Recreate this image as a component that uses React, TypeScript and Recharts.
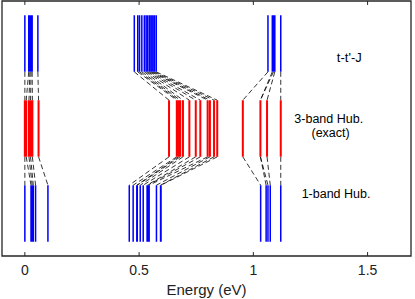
import React from 'react';
import { ComposedChart, Line, XAxis, YAxis, ReferenceDot, ReferenceArea, ReferenceLine, Label } from 'recharts';

// Energy levels (eV) for each model, sorted so index i corresponds across rows
const tJLevels = [
  0, 0.017, 0.022, 0.027, 0.032, 0.057,
  0.479, 0.494, 0.502, 0.512, 0.523, 0.531, 0.538, 0.546, 0.553, 0.56, 0.567, 0.575,
  1.064, 1.083, 1.088, 1.094, 1.12,
];
const threeBandLevels = [
  0, 0.006, 0.018, 0.025, 0.033, 0.06,
  0.631, 0.665, 0.672, 0.68, 0.692, 0.72, 0.748, 0.768, 0.8, 0.81, 0.828, 0.842,
  0.954, 1.031, 1.031, 1.06, 1.12,
];
const oneBandLevels = [
  0, 0.027, 0.032, 0.037, 0.047, 0.101,
  0.457, 0.474, 0.49, 0.492, 0.505, 0.518, 0.535, 0.538, 0.544, 0.576, 0.594, 0.596,
  1.032, 1.056, 1.064, 1.074, 1.12,
];
const rowLabels = ["t-t'-J", '3-band Hub.', '(exact)', '1-band Hub.'];
const xTicks = [0, 0.5, 1, 1.5];

const X_DOMAIN: [number, number] = [-0.1, 1.69];
const Y_DOMAIN: [number, number] = [0, 9];
const TICK_LEN = 0.14; // inward tick length in vertical units

// row extents in the (hidden) vertical coordinate
const TOP_ROW: [number, number] = [6.5, 8.5];
const MID_ROW: [number, number] = [3.5, 5.5];
const BOT_ROW: [number, number] = [0.5, 2.5];

type Pt = { x: number; y: number | null };

function levelSegments(levels: number[], span: [number, number]): Pt[] {
  return levels.flatMap((x) => [
    { x, y: span[0] },
    { x, y: span[1] },
    { x, y: null },
  ]);
}
function linkSegments(from: number[], to: number[], yFrom: number, yTo: number): Pt[] {
  return from.flatMap((x, i) => [
    { x, y: yFrom },
    { x: to[i], y: yTo },
    { x: to[i], y: null },
  ]);
}

const FRAME = '#262626';
const FONT = '"Liberation Sans", Arial, sans-serif';

export default function App() {
  return (
    <div style={{ position: 'absolute', left: 0, top: 0 }}>
      <ComposedChart
        width={415}
        height={299}
        margin={{ top: 1, right: 4, left: 2, bottom: 0 }}
        style={{ fontFamily: FONT }}
      >
        <XAxis
          dataKey="x"
          type="number"
          domain={X_DOMAIN}
          ticks={xTicks}
          allowDataOverflow
          height={43}
          axisLine={false}
          tickLine={false}
          tickSize={4}
          tickMargin={5}
          tick={{ fill: '#222', fontSize: 14 }}
          tickFormatter={(v: number) => String(v)}
        >
          <Label value="Energy (eV)" position="insideBottom" offset={4} fill="#222" fontSize={15} />
        </XAxis>
        <YAxis type="number" domain={Y_DOMAIN} hide width={0} />

        <ReferenceArea
          x1={X_DOMAIN[0]}
          x2={X_DOMAIN[1]}
          y1={Y_DOMAIN[0]}
          y2={Y_DOMAIN[1]}
          fill="none"
          fillOpacity={0}
          stroke={FRAME}
          strokeWidth={1.3}
          ifOverflow="visible"
        />
        {xTicks.map((t) => (
          <ReferenceLine
            key={'b' + t}
            segment={[{ x: t, y: Y_DOMAIN[0] }, { x: t, y: Y_DOMAIN[0] + TICK_LEN }]}
            stroke={FRAME}
            strokeWidth={1}
            ifOverflow="visible"
          />
        ))}
        {xTicks.map((t) => (
          <ReferenceLine
            key={'t' + t}
            segment={[{ x: t, y: Y_DOMAIN[1] }, { x: t, y: Y_DOMAIN[1] - TICK_LEN }]}
            stroke={FRAME}
            strokeWidth={1}
            ifOverflow="visible"
          />
        ))}

        <Line
          data={linkSegments(tJLevels, threeBandLevels, TOP_ROW[0], MID_ROW[1])}
          dataKey="y"
          stroke="#000"
          strokeWidth={0.8}
          strokeDasharray="5 3"
          dot={false}
          activeDot={false}
          isAnimationActive={false}
        />
        <Line
          data={linkSegments(threeBandLevels, oneBandLevels, MID_ROW[0], BOT_ROW[1])}
          dataKey="y"
          stroke="#000"
          strokeWidth={0.8}
          strokeDasharray="5 3"
          dot={false}
          activeDot={false}
          isAnimationActive={false}
        />
        <Line
          data={levelSegments(tJLevels, TOP_ROW)}
          dataKey="y"
          stroke="#0000ff"
          strokeWidth={1.5}
          dot={false}
          activeDot={false}
          isAnimationActive={false}
        />
        <Line
          data={levelSegments(threeBandLevels, MID_ROW)}
          dataKey="y"
          stroke="#ff0000"
          strokeWidth={2}
          dot={false}
          activeDot={false}
          isAnimationActive={false}
        />
        <Line
          data={levelSegments(oneBandLevels, BOT_ROW)}
          dataKey="y"
          stroke="#0000ff"
          strokeWidth={1.5}
          dot={false}
          activeDot={false}
          isAnimationActive={false}
        />

        <ReferenceDot x={1.42} y={7.0} r={0} fill="none" stroke="none"
          label={{ value: rowLabels[0], position: 'center', fill: '#000', fontSize: 13 }} />
        <ReferenceDot x={1.33} y={4.85} r={0} fill="none" stroke="none"
          label={{ value: rowLabels[1], position: 'center', fill: '#000', fontSize: 12.5 }} />
        <ReferenceDot x={1.338} y={4.37} r={0} fill="none" stroke="none"
          label={{ value: rowLabels[2], position: 'center', fill: '#000', fontSize: 12.5 }} />
        <ReferenceDot x={1.362} y={2.2} r={0} fill="none" stroke="none"
          label={{ value: rowLabels[3], position: 'center', fill: '#000', fontSize: 12.5 }} />
      </ComposedChart>
    </div>
  );
}
